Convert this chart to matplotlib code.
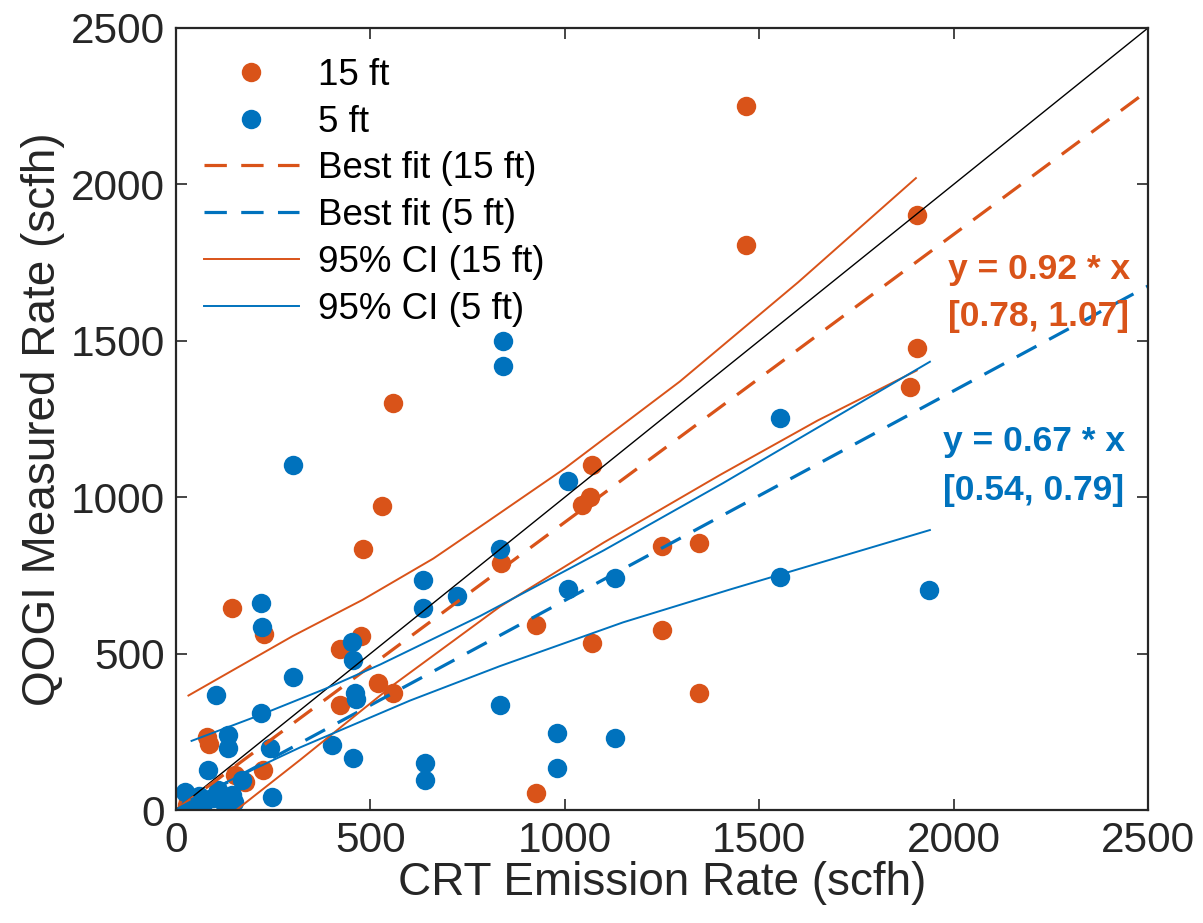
import numpy as np
import matplotlib.pyplot as plt
from matplotlib.lines import Line2D

plt.rcParams['font.family'] = ['Liberation Sans', 'DejaVu Sans']

# measured points, 15 ft
x15 = [1467, 1467, 1905, 1905, 1887, 559, 529, 481, 144, 226, 422, 477, 520, 559, 422,
       1069, 1065, 1045, 837, 1249, 1344, 927, 1069, 1249, 1344, 927, 79, 85, 224, 152,
       177, 32, 28]
y15 = [2250, 1805, 1902, 1476, 1353, 1302, 972, 834, 646, 563, 514, 557, 407, 373, 336,
       1103, 1000, 975, 790, 843, 852, 591, 533, 575, 375, 53, 232, 212, 128, 112,
       90, 32, 15]

# measured points, 5 ft
x5 = [841, 841, 301, 1553, 1009, 833, 636, 636, 722, 1009, 1129, 1553, 1937, 218, 220,
      452, 456, 302, 460, 462, 103, 400, 456, 640, 640, 833, 979, 1129, 979, 219,
      134, 134, 242, 82, 169, 109, 143, 126, 23, 49, 247, 36, 118,
      70, 95, 150, 60]
y5 = [1499, 1419, 1103, 1252, 1052, 836, 735, 645, 685, 705, 743, 744, 703, 663, 586,
      538, 480, 424, 373, 355, 368, 208, 165, 149, 96, 336, 245, 229, 133, 310,
      240, 198, 198, 128, 96, 64, 48, 16, 59, 16, 42, 10, 38,
      20, 40, 25, 45]

slope15 = 0.92
slope5 = 0.67

# 95% CI curves
ci15_up_x = [32, 300, 480, 662, 800, 1000, 1296, 1600, 1903]
ci15_up_y = [366, 556, 672, 804, 921, 1092, 1370, 1687, 2020]
ci15_lo_x = [150, 319, 559, 833, 1100, 1399, 1650, 1905]
ci15_lo_y = [-5, 160, 400, 650, 855, 1071, 1245, 1405]
ci5_up_x = [40, 219, 383, 525, 782, 1100, 1407, 1939]
ci5_up_y = [221, 305, 387, 465, 620, 830, 1045, 1433]
ci5_lo_x = [40, 156, 319, 602, 833, 1150, 1425, 1939]
ci5_lo_y = [35, 105, 200, 350, 460, 600, 705, 895]

orange = '#D95319'
blue = '#0072BD'
dark = '#262626'

fig = plt.figure(figsize=(12.03, 9.23), dpi=100)
ax = fig.add_axes([0.1463, 0.1224, 0.8080, 0.8473])

ax.plot(x15, y15, 'o', color=orange, markersize=14, markeredgewidth=0)
ax.plot(x5, y5, 'o', color=blue, markersize=14, markeredgewidth=0)

xx = np.array([0, 2500])
ax.plot(xx, xx, color='black', lw=1.0)
ax.plot(xx, slope15 * xx, color=orange, lw=2.3, dashes=(7, 4.5))
ax.plot(xx, slope5 * xx, color=blue, lw=2.3, dashes=(7, 4.5))

ax.plot(ci15_up_x, ci15_up_y, color=orange, lw=1.4)
ax.plot(ci15_lo_x, ci15_lo_y, color=orange, lw=1.4)
ax.plot(ci5_up_x, ci5_up_y, color=blue, lw=1.4)
ax.plot(ci5_lo_x, ci5_lo_y, color=blue, lw=1.4)

ax.text(1985, 1727, 'y = 0.92 * x', color=orange, fontsize=25.5, fontweight='bold', va='center')
ax.text(1985, 1578, '[0.78, 1.07]', color=orange, fontsize=25.5, fontweight='bold', va='center')
ax.text(1972, 1178, 'y = 0.67 * x', color=blue, fontsize=25.5, fontweight='bold', va='center')
ax.text(1972, 1020, '[0.54, 0.79]', color=blue, fontsize=25.5, fontweight='bold', va='center')

ax.set_xlim(0, 2500)
ax.set_ylim(0, 2500)
ax.set_xticks([0, 500, 1000, 1500, 2000, 2500])
ax.set_yticks([0, 500, 1000, 1500, 2000, 2500])
ax.tick_params(direction='in', length=8, width=1.2, top=True, right=True,
               labelsize=30.5, colors=dark, pad=8)
for s in ax.spines.values():
    s.set_linewidth(1.6)
    s.set_color(dark)

ax.set_xlabel('CRT Emission Rate (scfh)', fontsize=33, color=dark, labelpad=0)
ax.set_ylabel('QOGI Measured Rate (scfh)', fontsize=33, color=dark, labelpad=4)

handles = [
    Line2D([], [], ls='none', marker='o', color=orange, markersize=14, markeredgewidth=0),
    Line2D([], [], ls='none', marker='o', color=blue, markersize=14, markeredgewidth=0),
    Line2D([], [], color=orange, lw=2.3, dashes=(7, 4.5)),
    Line2D([], [], color=blue, lw=2.3, dashes=(7, 4.5)),
    Line2D([], [], color=orange, lw=1.4),
    Line2D([], [], color=blue, lw=1.4),
]
labels = ['15 ft', '5 ft', 'Best fit (15 ft)', 'Best fit (5 ft)',
          '95% CI (15 ft)', '95% CI (5 ft)']
ax.legend(handles, labels, loc='upper left', frameon=False, fontsize=26.5,
          handlelength=2.6, handletextpad=0.5, labelspacing=0.32,
          bbox_to_anchor=(0.017, 0.976), borderaxespad=0.0, borderpad=0.3)

fig.savefig('out.png', dpi=100)
